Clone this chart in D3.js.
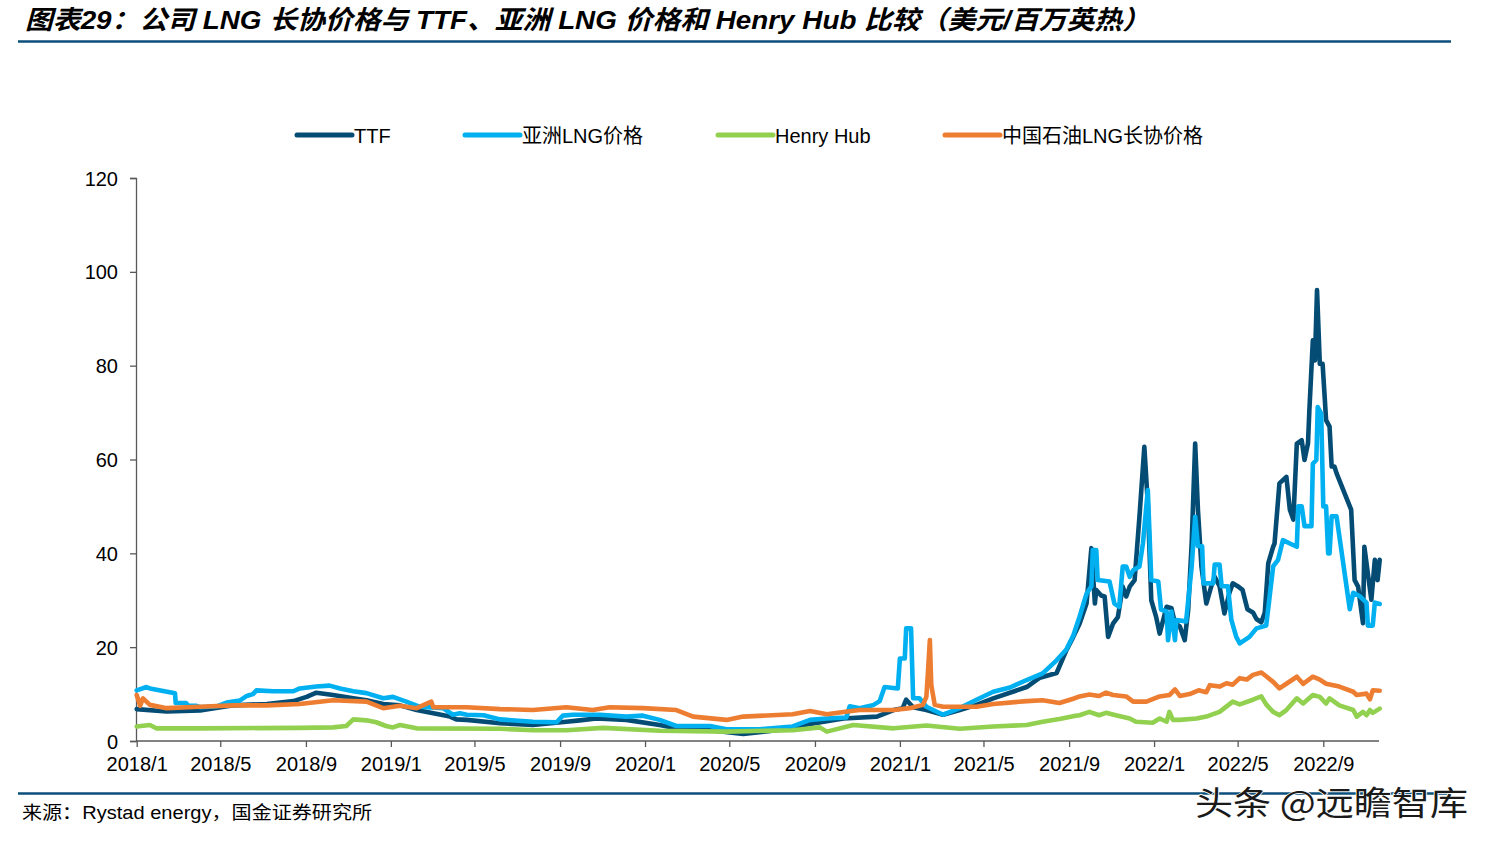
<!DOCTYPE html>
<html><head><meta charset="utf-8">
<script src="https://cdn.jsdelivr.net/npm/d3@7"></script>
<style>
html,body{margin:0;padding:0;background:#fff;}
svg{display:block;}
text{font-family:"Liberation Sans",Arial,"Noto Sans CJK SC",sans-serif;}
</style></head>
<body>
<svg id="chart" width="1494" height="844"></svg>
<script>
// ---------- data (USD/MMBtu) ----------
const seriesNames = ["TTF", "亚洲LNG价格", "Henry Hub", "中国石油LNG长协价格"];
const yTicks = [0, 20, 40, 60, 80, 100, 120];

const ttfDates = ["2018-01-01","2018-02-13","2018-04-02","2018-05-20","2018-07-07","2018-08-14","2018-09-02","2018-09-16","2018-10-10","2018-11-08","2018-11-27","2018-12-21","2019-01-14","2019-02-07","2019-03-03","2019-03-27","2019-04-05","2019-04-20","2019-06-07","2019-07-24","2019-09-10","2019-09-29","2019-10-23","2019-12-05","2020-01-22","2020-02-15","2020-04-03","2020-05-21","2020-07-08","2020-08-25","2020-10-12","2020-11-29","2020-12-23","2021-01-05","2021-01-10","2021-01-20","2021-02-08","2021-03-04","2021-03-28","2021-04-21","2021-05-15","2021-07-02","2021-07-21","2021-08-14","2021-08-28","2021-09-07","2021-09-16","2021-09-26","2021-10-03","2021-10-08","2021-10-10","2021-10-17","2021-10-22","2021-10-27","2021-11-03","2021-11-10","2021-11-17","2021-11-22","2021-11-27","2021-12-04","2021-12-11","2021-12-18","2021-12-23","2021-12-28","2022-01-04","2022-01-09","2022-01-19","2022-01-26","2022-01-31","2022-02-07","2022-02-14","2022-02-19","2022-02-24","2022-03-01","2022-03-05","2022-03-10","2022-03-17","2022-03-24","2022-03-29","2022-04-05","2022-04-12","2022-04-19","2022-04-24","2022-05-01","2022-05-08","2022-05-15","2022-05-23","2022-05-28","2022-06-04","2022-06-09","2022-06-14","2022-06-21","2022-06-23","2022-06-30","2022-07-05","2022-07-10","2022-07-15","2022-07-20","2022-07-25","2022-08-01","2022-08-05","2022-08-10","2022-08-12","2022-08-17","2022-08-20","2022-08-23","2022-08-27","2022-08-31","2022-09-03","2022-09-05","2022-09-10","2022-09-13","2022-09-17","2022-09-20","2022-09-24","2022-10-11","2022-10-16","2022-10-21","2022-10-28","2022-10-30","2022-11-04","2022-11-09","2022-11-14","2022-11-18","2022-11-21"];
const ttfValues = [6.8,6.3,6.5,7.6,7.9,8.5,9.4,10.3,9.8,9.1,8.7,7.9,7.6,6.6,5.9,5.2,4.6,4.5,3.8,3.4,4.1,4.4,4.8,4.5,3.4,2.7,2.3,1.5,2.3,3.6,4.8,5.2,6.6,7.0,8.8,7.2,6.6,5.6,6.6,7.7,9.1,11.5,13.5,14.5,19.3,22.2,25,29.3,41.1,29.3,32.2,31,30.8,22.2,25,26.4,32.9,30.8,32.9,34.3,47.8,62.7,50.6,30.0,26.4,22.9,28.6,28.3,25.1,24.4,21.5,28.0,42.1,63.4,49.2,37.2,29.3,32.9,35,33,27.2,31.5,33.6,33,32.2,28.1,27.4,26.0,25.3,27.4,37.9,41.4,42.1,54.9,55.6,56.3,49.3,47.2,63.4,64.1,59.9,63.4,70.5,85.4,81.1,96.1,80.4,80.4,73.3,68.4,67,58.5,58.5,57.1,55.6,49.3,34.3,32.9,25.1,41.4,35.7,30.1,38.6,34.3,38.6];

const asiaDates = ["2018-01-01","2018-01-15","2018-01-20","2018-02-25","2018-02-26","2018-03-13","2018-03-16","2018-03-28","2018-04-02","2018-04-26","2018-05-10","2018-05-29","2018-06-08","2018-06-17","2018-06-22","2018-07-16","2018-08-14","2018-08-23","2018-09-16","2018-10-05","2018-10-20","2018-11-08","2018-11-27","2018-12-21","2019-01-04","2019-01-23","2019-02-11","2019-03-17","2019-03-31","2019-04-10","2019-04-20","2019-05-14","2019-06-07","2019-07-24","2019-08-27","2019-09-05","2019-09-20","2019-10-28","2019-12-05","2019-12-29","2020-01-22","2020-02-15","2020-04-03","2020-04-27","2020-06-14","2020-07-31","2020-08-25","2020-09-18","2020-10-16","2020-10-21","2020-11-04","2020-11-23","2020-12-03","2020-12-10","2020-12-29","2021-01-01","2021-01-08","2021-01-10","2021-01-17","2021-01-20","2021-01-29","2021-02-08","2021-03-04","2021-03-28","2021-04-21","2021-05-15","2021-06-08","2021-07-02","2021-07-25","2021-08-14","2021-08-28","2021-09-07","2021-09-16","2021-09-26","2021-10-03","2021-10-05","2021-10-10","2021-10-12","2021-10-29","2021-11-05","2021-11-12","2021-11-17","2021-11-22","2021-11-27","2021-12-02","2021-12-11","2021-12-16","2021-12-23","2021-12-28","2022-01-07","2022-01-11","2022-01-19","2022-01-21","2022-01-26","2022-01-31","2022-02-02","2022-02-16","2022-02-24","2022-03-01","2022-03-05","2022-03-11","2022-03-13","2022-03-27","2022-03-29","2022-04-05","2022-04-08","2022-04-17","2022-04-22","2022-04-29","2022-05-04","2022-05-18","2022-05-28","2022-06-11","2022-06-21","2022-06-28","2022-07-05","2022-07-15","2022-07-25","2022-07-27","2022-08-01","2022-08-05","2022-08-15","2022-08-17","2022-08-22","2022-08-24","2022-08-29","2022-09-01","2022-09-05","2022-09-08","2022-09-10","2022-09-13","2022-09-20","2022-10-09","2022-10-14","2022-10-23","2022-11-02","2022-11-04","2022-11-11","2022-11-14","2022-11-21"];
const asiaValues = [10.8,11.5,11.2,10.2,8.1,8.1,7.5,7.5,7.2,7.4,8.2,8.6,9.6,10.0,10.8,10.6,10.6,11.2,11.6,11.8,11.2,10.6,10.2,9.1,9.4,8.4,7.3,7.0,5.6,5.9,5.6,5.5,4.6,4.1,4.0,5.4,5.6,5.6,5.2,5.4,4.5,3.2,3.2,2.5,2.5,3.1,4.5,4.8,5.0,7.4,7.0,7.6,8.5,11.5,11.2,17.6,17.6,24,24,9.1,9.1,7.3,5.6,7.0,8.8,10.5,11.4,13,14.4,17.2,19.5,22.5,26.5,31.4,33,40.7,40.7,34.3,34,29.3,28.6,37.2,37.2,35,36.4,37.2,42.1,53.5,34.3,34,28,27.6,21.5,27.6,21.5,25.8,25.5,37.2,47.8,41.5,41.5,33.6,33.6,37.6,37.6,33.0,33.0,25.8,22.2,20.8,22.2,24.0,24.6,37.2,38.6,42.8,42.1,41.4,50.0,50.0,45.8,45.8,59.1,59.9,71.2,69.8,50.0,50.0,40.0,40.0,47.9,47.9,28.1,31.6,30.9,29.5,24.6,24.6,29.5,29.2];

const hhDates = ["2018-01-01","2018-01-20","2018-01-29","2018-04-02","2018-08-23","2018-10-10","2018-10-29","2018-11-08","2018-11-27","2018-12-11","2018-12-25","2019-01-04","2019-01-14","2019-02-07","2019-06-07","2019-07-24","2019-09-10","2019-11-02","2020-01-22","2020-04-27","2020-07-31","2020-09-08","2020-09-18","2020-10-26","2020-12-23","2021-02-08","2021-03-28","2021-05-15","2021-07-02","2021-07-25","2021-08-18","2021-09-07","2021-09-16","2021-09-30","2021-10-14","2021-10-24","2021-11-07","2021-11-27","2021-12-06","2021-12-30","2022-01-09","2022-01-19","2022-01-23","2022-01-28","2022-02-07","2022-03-03","2022-03-17","2022-04-05","2022-04-24","2022-05-04","2022-05-23","2022-06-04","2022-06-11","2022-06-21","2022-06-30","2022-07-10","2022-07-25","2022-08-03","2022-08-17","2022-08-27","2022-09-05","2022-09-10","2022-09-24","2022-10-14","2022-10-19","2022-10-28","2022-11-02","2022-11-07","2022-11-11","2022-11-21"];
const hhValues = [3.1,3.4,2.7,2.7,2.8,2.9,3.2,4.6,4.4,4.0,3.2,2.9,3.4,2.7,2.6,2.3,2.3,2.8,2.2,2.0,2.3,2.9,2.0,3.4,2.7,3.3,2.6,3.1,3.4,4.1,4.7,5.3,5.5,6.2,5.5,6.0,5.5,4.8,4.1,3.9,4.8,4.1,6.2,4.5,4.5,4.8,5.2,6.2,8.4,7.8,8.8,9.5,7.8,6.2,5.5,6.6,9.1,8.0,9.8,9.4,8.0,9.1,7.6,6.6,5.2,6.2,5.5,6.6,6.0,6.9];

const cnpcDates = ["2018-01-01","2018-01-06","2018-01-10","2018-01-20","2018-02-13","2018-04-02","2018-05-20","2018-07-07","2018-08-23","2018-10-10","2018-11-27","2018-12-21","2019-01-14","2019-02-07","2019-02-28","2019-03-03","2019-04-20","2019-06-07","2019-07-24","2019-09-10","2019-10-18","2019-11-11","2019-12-29","2020-02-15","2020-03-10","2020-04-27","2020-05-21","2020-07-31","2020-08-25","2020-09-18","2020-10-12","2020-11-04","2020-12-23","2021-01-15","2021-02-03","2021-02-08","2021-02-10","2021-02-13","2021-02-15","2021-02-18","2021-02-20","2021-03-04","2021-04-21","2021-05-15","2021-07-02","2021-07-25","2021-08-18","2021-09-07","2021-09-16","2021-09-30","2021-10-14","2021-10-24","2021-11-03","2021-11-22","2021-12-02","2021-12-21","2022-01-09","2022-01-23","2022-01-31","2022-02-07","2022-02-21","2022-03-06","2022-03-17","2022-03-22","2022-04-05","2022-04-15","2022-04-24","2022-05-04","2022-05-14","2022-05-23","2022-06-04","2022-06-11","2022-06-21","2022-06-30","2022-07-10","2022-07-25","2022-08-03","2022-08-17","2022-08-27","2022-09-05","2022-09-24","2022-10-14","2022-10-19","2022-11-02","2022-11-07","2022-11-11","2022-11-21"];
const cnpcValues = [9.8,7.5,9.1,7.7,7.0,7.3,7.6,7.6,7.9,8.7,8.4,7.0,7.5,7.0,8.4,7.2,7.2,6.8,6.6,7.2,6.6,7.2,7.0,6.6,5.2,4.5,5.2,5.7,6.4,5.7,6.2,6.6,6.6,7.0,7.7,9.4,14,21.5,12,9.4,7.7,7.3,7.3,7.9,8.5,8.7,8.1,9.0,9.5,9.9,9.6,10.3,9.8,9.5,8.4,8.4,9.5,9.8,11.0,9.6,10.0,10.8,10.4,11.9,11.6,12.3,12.0,13.4,13.1,14.1,14.6,13.8,12.6,11.2,12.2,13.7,12.2,13.7,13.1,12.2,11.6,10.5,9.8,10.1,8.9,10.8,10.7];

const seriesColors = ["#044c74", "#00b0f0", "#92d050", "#ed7d31"];

// ---------- drawing ----------
const svg = d3.select("#chart");
const parse = d3.utcParse("%Y-%m-%d");
const mk = (ds, vs) => ds.map((d, i) => ({date: parse(d), value: vs[i]}));
const series = [
  mk(ttfDates, ttfValues),
  mk(asiaDates, asiaValues),
  mk(hhDates, hhValues),
  mk(cnpcDates, cnpcValues)
];

const x = d3.scaleUtc()
  .domain([parse("2018-01-01"), parse("2022-11-20")])
  .range([136.7, 1379]);
const y = d3.scaleLinear().domain([0, 120]).range([741, 178]);

// title
svg.append("text")
  .attr("x", 25).attr("y", 29)
  .attr("textLength", 1125).attr("lengthAdjust", "spacingAndGlyphs")
  .style("font-size", "26px").style("font-weight", "bold").style("font-style", "italic")
  .style("font-family", "'Liberation Sans','Noto Sans CJK SC',sans-serif")
  .attr("fill", "#000")
  .text("图表29：公司 LNG 长协价格与 TTF、亚洲 LNG 价格和 Henry Hub 比较（美元/百万英热）");
svg.append("line").attr("x1", 18).attr("x2", 1451).attr("y1", 41.5).attr("y2", 41.5)
  .attr("stroke", "#0b4f7a").attr("stroke-width", 2.5);

// axes
const axisColor = "#595959";
const yAxis = svg.append("g").attr("transform", "translate(136,0)")
  .call(d3.axisLeft(y).tickValues(yTicks).tickSize(6).tickPadding(12));
const xAxis = svg.append("g").attr("transform", "translate(0,741)")
  .call(d3.axisBottom(x).ticks(d3.utcMonth.every(4)).tickFormat(d3.utcFormat("%Y/%-m")).tickSize(6).tickPadding(10));
[yAxis, xAxis].forEach(g => {
  g.select(".domain").attr("stroke", axisColor).attr("stroke-width", 1.3);
  g.selectAll(".tick line").attr("stroke", axisColor).attr("stroke-width", 1.3);
  g.selectAll(".tick text").attr("fill", "#000")
    .style("font-size", "20px").style("font-family", "'Liberation Sans',Arial,sans-serif");
});
yAxis.selectAll(".tick text").attr("dy", "0.35em");
xAxis.select(".domain").attr("d", "M136,0H1379");

// lines
const line = d3.line().x(d => x(d.date)).y(d => y(d.value));
series.forEach((s, i) => {
  svg.append("path").datum(s)
    .attr("d", line)
    .attr("fill", "none")
    .attr("stroke", seriesColors[i])
    .attr("stroke-width", 4.6)
    .attr("stroke-linejoin", "round")
    .attr("stroke-linecap", "round");
});

// legend
const legendX = [297, 465, 718, 945];
const legend = svg.append("g");
seriesNames.forEach((n, i) => {
  legend.append("line")
    .attr("x1", legendX[i]).attr("x2", legendX[i] + 55)
    .attr("y1", 135).attr("y2", 135)
    .attr("stroke", seriesColors[i]).attr("stroke-width", 5).attr("stroke-linecap", "round");
  legend.append("text")
    .attr("x", legendX[i] + 57).attr("y", 136).attr("dy", "0.35em")
    .style("font-size", "20px")
    .style("font-family", "'Liberation Sans',Arial,'Noto Sans CJK SC',sans-serif")
    .attr("fill", "#000").text(n);
});

// footer
svg.append("line").attr("x1", 18).attr("x2", 1451).attr("y1", 793.5).attr("y2", 793.5)
  .attr("stroke", "#0b4f7a").attr("stroke-width", 2.5);
svg.append("text").attr("x", 22).attr("y", 819)
  .attr("textLength", 350).attr("lengthAdjust", "spacingAndGlyphs")
  .style("font-size", "18px")
  .style("font-family", "'Liberation Sans',Arial,'Noto Sans CJK SC',sans-serif")
  .attr("fill", "#000").text("来源：Rystad energy，国金证券研究所");
svg.append("text").attr("x", 1195).attr("y", 815)
  .attr("textLength", 273).attr("lengthAdjust", "spacingAndGlyphs")
  .style("font-size", "33px")
  .style("font-family", "'Noto Sans CJK SC',sans-serif")
  .attr("fill", "#1a1a1a").attr("stroke", "#fff").attr("stroke-width", 1.5)
  .style("paint-order", "stroke")
  .text("头条 @远瞻智库");
</script>
</body></html>
